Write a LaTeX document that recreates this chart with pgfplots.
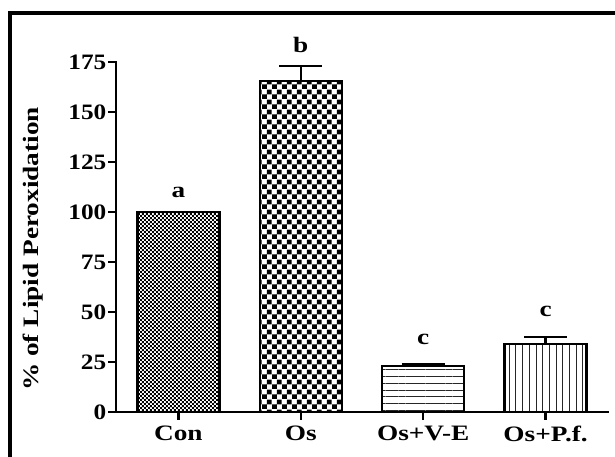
\documentclass[border=0pt]{standalone}
\usepackage{pgfplots}
\pgfplotsset{compat=1.18}
\usepackage{graphicx}
\usepackage{fontspec}
\setmainfont{Liberation Serif}
\usetikzlibrary{patterns,patterns.meta}
\pgfdeclarepatternformonly{finecheck}{\pgfqpoint{0pt}{0pt}}{\pgfqpoint{4.4pt}{4.4pt}}{\pgfqpoint{4.4pt}{4.4pt}}{%
  \pgfpathrectangle{\pgfqpoint{0pt}{0pt}}{\pgfqpoint{2.2pt}{2.2pt}}%
  \pgfpathrectangle{\pgfqpoint{2.2pt}{2.2pt}}{\pgfqpoint{2.2pt}{2.2pt}}%
  \pgfusepath{fill}}
\pgfdeclarepatternformonly{coarsecheck}{\pgfqpoint{0pt}{0pt}}{\pgfqpoint{9.7pt}{9.7pt}}{\pgfqpoint{9.7pt}{9.7pt}}{%
  \pgfpathrectangle{\pgfqpoint{0pt}{0pt}}{\pgfqpoint{4.85pt}{4.85pt}}%
  \pgfpathrectangle{\pgfqpoint{4.85pt}{4.85pt}}{\pgfqpoint{4.85pt}{4.85pt}}%
  \pgfusepath{fill}}
\newcommand{\bigtxt}[1]{{\fontsize{22}{25}\selectfont\bfseries\scalebox{1.24}[1]{#1}}}
\begin{document}
\begin{tikzpicture}
\path[use as bounding box] (0,0) rectangle (615pt,457pt);
\draw[line width=4pt, line join=miter] (10pt,-5pt) -- (10pt,443.5pt) -- (620pt,443.5pt);
\begin{axis}[
  at={(116pt,45pt)}, anchor=south west,
  scale only axis, width=492pt, height=350pt,
  xmin=-0.51, xmax=3.51, ymin=0, ymax=175,
  axis x line=bottom, axis y line=left,
  axis line style={-, line width=2.6pt, line cap=rect},
  xtick={0,1,2,3},
  xticklabels={\bigtxt{Con},\bigtxt{Os},\bigtxt{Os+V-E},\bigtxt{Os+P.f.}},
  ytick={0,25,50,75,100,125,150,175},
  tick align=outside,
  major tick length=8pt,
  tick style={line width=2.4pt, black},
  /pgf/number format/assume math mode=true,
  yticklabel={\scalebox{1.15}[1]{\pgfmathprintnumber{\tick}}},
  yticklabel style={font=\fontsize{22}{24}\selectfont\bfseries, inner sep=1.5pt},
  xticklabel style={inner sep=2pt, yshift=-4pt},
  ylabel={\bigtxt{\% of Lipid Peroxidation}},
  ylabel style={at={(axis description cs:-0.169,0.466)}, anchor=center},
  clip=false,
  error bars/y dir=plus, error bars/y explicit,
  error bars/error bar style={line width=2.5pt, black},
  error bars/error mark options={rotate=90, mark size=21.5pt, line width=2.5pt, black},
]
\addplot[ybar, bar width=82pt, bar shift=0pt, draw=black, line width=2.4pt, pattern=finecheck, pattern color=black] coordinates {(0,100)};
\addplot[ybar, bar width=82pt, bar shift=0pt, draw=black, line width=2.4pt, pattern=coarsecheck, pattern color=black] coordinates {(1,165.5) +- (0,7.5)};
\addplot[ybar, bar width=82pt, bar shift=0pt, draw=black, line width=2.4pt, pattern={Lines[angle=0,distance=6.7pt,line width=0.9pt]}, pattern color=black!85] coordinates {(2,23) +- (0,1)};
\addplot[ybar, bar width=82pt, bar shift=0pt, draw=black, line width=2.4pt, pattern={Lines[angle=90,distance=6.7pt,line width=0.9pt]}, pattern color=black!85] coordinates {(3,34) +- (0,3.5)};
\node at (axis cs:0,110) {\bigtxt{a}};
\node at (axis cs:1,183.5) {\bigtxt{b}};
\node at (axis cs:2,36.5) {\bigtxt{c}};
\node at (axis cs:3,50.5) {\bigtxt{c}};
\end{axis}
\end{tikzpicture}
\end{document}
